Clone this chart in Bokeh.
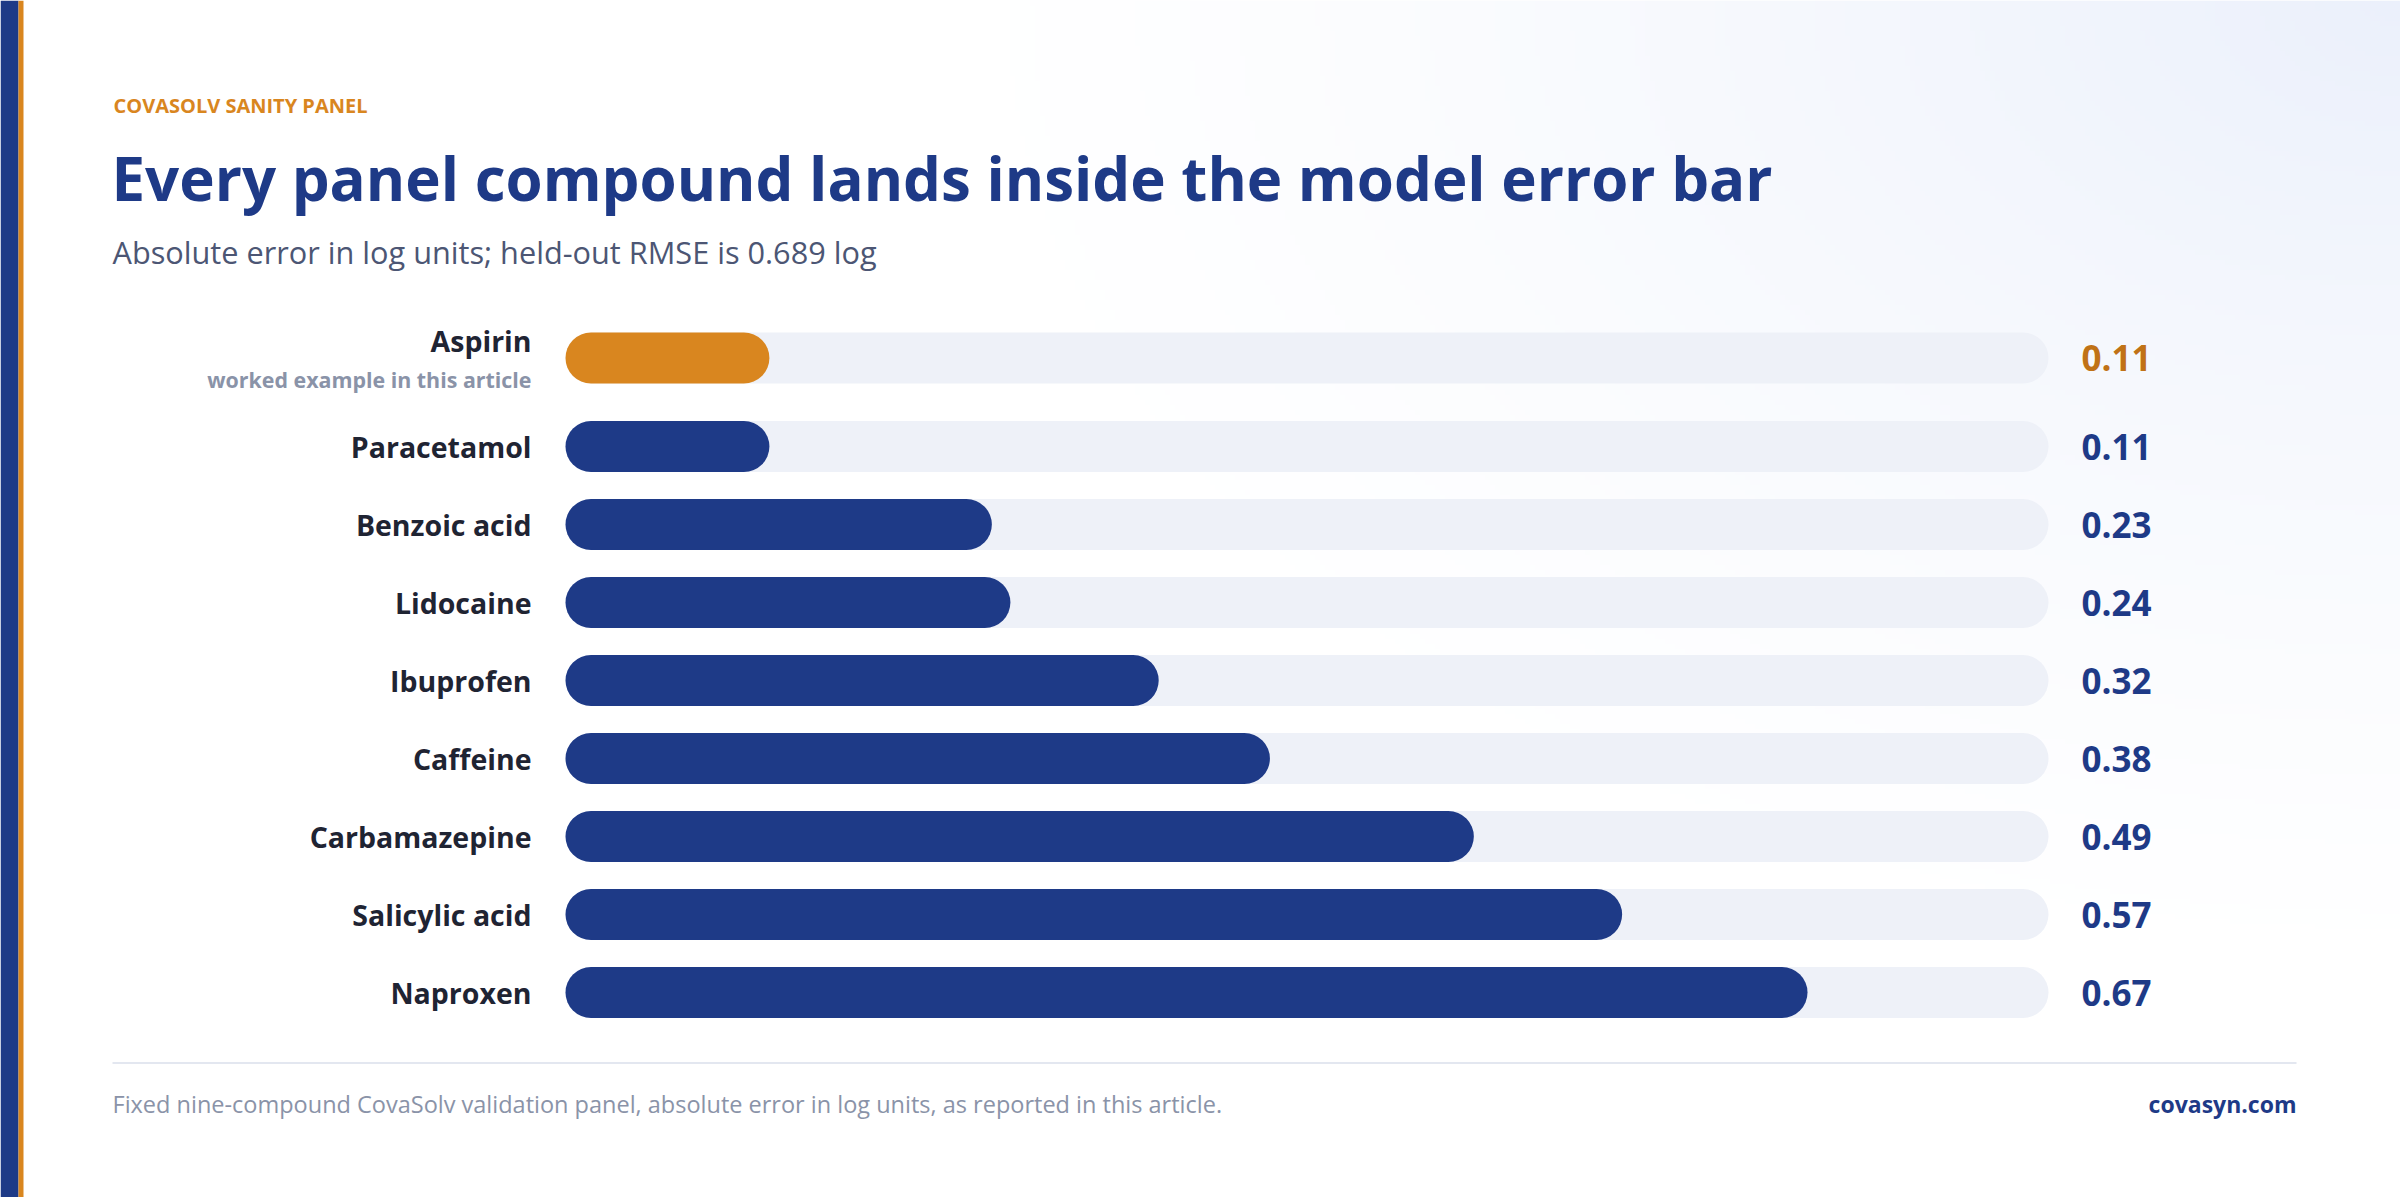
import numpy as np
from bokeh.plotting import figure
from bokeh.models import Range1d, ColumnDataSource
from bokeh.core.properties import value
from bokeh.embed import file_html
from bokeh.resources import INLINE

# ---- data -----------------------------------------------------------------
compounds = ["Aspirin", "Paracetamol", "Benzoic acid", "Lidocaine", "Ibuprofen",
             "Caffeine", "Carbamazepine", "Salicylic acid", "Naproxen"]
abs_error = [0.11, 0.11, 0.23, 0.24, 0.32, 0.38, 0.49, 0.57, 0.67]
featured = "Aspirin"
featured_note = "worked example in this article"
scale_max = 0.8  # full length of the grey track, in log units

eyebrow = "COVASOLV SANITY PANEL"
title = "Every panel compound lands inside the model error bar"
subtitle = "Absolute error in log units; held-out RMSE is 0.689 log"
footnote = ("Fixed nine-compound CovaSolv validation panel, absolute error in log units, "
            "as reported in this article.")
site = "covasyn.com"

# ---- layout / style -------------------------------------------------------
W, H = 2400, 1197
BAR_LEFT, BAR_RIGHT = 565, 2048       # pixel span of the track
ROW_PX, FIRST_ROW = 78, 357.5         # row pitch and centre of first row
FEATURE_GAP = 10.5 / 78               # extra room under the featured row (rows)
BAR_H = 51 / 78                       # bar thickness (rows)
RADIUS = 26

NAVY = "#1e3a87"
ORANGE = "#d9861f"
ORANGE_TEXT = "#c07216"
TRACK = "#eef1f8"
INK = "#1f2433"
MUTED = "#8a93a8"
SUB = "#4c5674"
FONT = value("Open Sans")

px_per_unit = (BAR_RIGHT - BAR_LEFT) / scale_max
x_range = Range1d(-BAR_LEFT / px_per_unit, (W - BAR_LEFT) / px_per_unit)
y_range = Range1d(start=(H - FIRST_ROW) / ROW_PX, end=-FIRST_ROW / ROW_PX)

p = figure(width=W, height=H, x_range=x_range, y_range=y_range,
           output_backend="svg", toolbar_location=None,
           x_axis_location=None, y_axis_location=None,
           min_border=0, outline_line_color=None,
           background_fill_color="white", border_fill_color="white")
p.grid.visible = False
p.extra_x_ranges = {"px": Range1d(0, W)}
p.extra_y_ranges = {"px": Range1d(H, 0),      # page pixels, measured from the top
                    "px_up": Range1d(0, H)}   # page pixels, measured from the bottom
PX = dict(x_range_name="px", y_range_name="px")

# soft tint in the top-right corner
nx, ny = 480, 240
gx, gy = np.meshgrid(np.linspace(0, W, nx), np.linspace(0, H, ny))
d = np.hypot((gx - W) / 1500.0, (gy - H) / 1000.0)
w = np.clip(1 - d, 0, 1) ** 1.4
tint = np.array([235, 240, 251])
img = np.empty((ny, nx), dtype=np.uint32)
view = img.view(dtype=np.uint8).reshape((ny, nx, 4))
for k in range(3):
    view[:, :, k] = np.round(255 - (255 - tint[k]) * w).astype(np.uint8)
view[:, :, 3] = 255
p.image_rgba(image=[img], x=0, y=0, dw=W, dh=H, x_range_name="px", y_range_name="px_up")

# brand stripe on the left edge
p.quad(left=[0], right=[18], bottom=[H], top=[0], fill_color=NAVY, line_color=None, **PX)
p.quad(left=[18], right=[23], bottom=[H], top=[0], fill_color=ORANGE, line_color=None, **PX)

# row positions
ypos = [0.0] + [i + FEATURE_GAP for i in range(1, len(compounds))]
is_feat = [c == featured for c in compounds]
bar_colors = [ORANGE if f else NAVY for f in is_feat]
val_colors = [ORANGE_TEXT if f else NAVY for f in is_feat]

src = ColumnDataSource(dict(
    y=ypos, name=compounds, err=abs_error,
    track=[scale_max] * len(compounds),
    bar_color=bar_colors, val_color=val_colors,
    label=[f"{v:.2f}" for v in abs_error],
))

p.hbar(y="y", left=0, right="track", height=BAR_H, source=src,
       fill_color=TRACK, line_color=None, border_radius=RADIUS)
p.hbar(y="y", left=0, right="err", height=BAR_H, source=src,
       fill_color="bar_color", line_color=None, border_radius=RADIUS)

p.text(x="track", y="y", text="label", source=src, x_offset=33,
       text_align="left", text_baseline="middle", text_color="val_color",
       text_font=FONT, text_font_style="bold", text_font_size="35px")

# compound names
plain = [i for i, f in enumerate(is_feat) if not f]
feat = [i for i, f in enumerate(is_feat) if f]
p.text(x=[0] * len(plain), y=[ypos[i] for i in plain], text=[compounds[i] for i in plain],
       x_offset=-34, text_align="right", text_baseline="middle", text_color=INK,
       text_font=FONT, text_font_style="bold", text_font_size="28.5px")
p.text(x=[0] * len(feat), y=[ypos[i] for i in feat], text=[compounds[i] for i in feat],
       x_offset=-34, y_offset=-17, text_align="right", text_baseline="middle",
       text_color=INK, text_font=FONT, text_font_style="bold", text_font_size="28.5px")
p.text(x=[0] * len(feat), y=[ypos[i] for i in feat], text=[featured_note] * len(feat),
       x_offset=-34, y_offset=21, text_align="right", text_baseline="middle",
       text_color=MUTED, text_font=FONT, text_font_style="bold", text_font_size="21.4px")


def page_text(x, y, txt, color, size, bold=False, align="left"):
    p.text(x=[x], y=[y], text=[txt], text_color=color, text_font=FONT,
           text_font_style="bold" if bold else "normal", text_font_size=size,
           text_align=align, text_baseline="middle", **PX)


# header
page_text(113, 105.3, eyebrow, ORANGE, "20px", bold=True)
page_text(111, 177, title, NAVY, "60px", bold=True)
page_text(112, 251.5, subtitle, SUB, "30.7px")

# footer
p.quad(left=[112], right=[2296], top=[1061.5], bottom=[1063.5],
       fill_color="#e3e7f0", line_color=None, **PX)
page_text(112, 1103, footnote, MUTED, "23.5px")
page_text(2296, 1103, site, NAVY, "23px", bold=True, align="right")

open("out.html", "w").write(file_html(p, INLINE))
